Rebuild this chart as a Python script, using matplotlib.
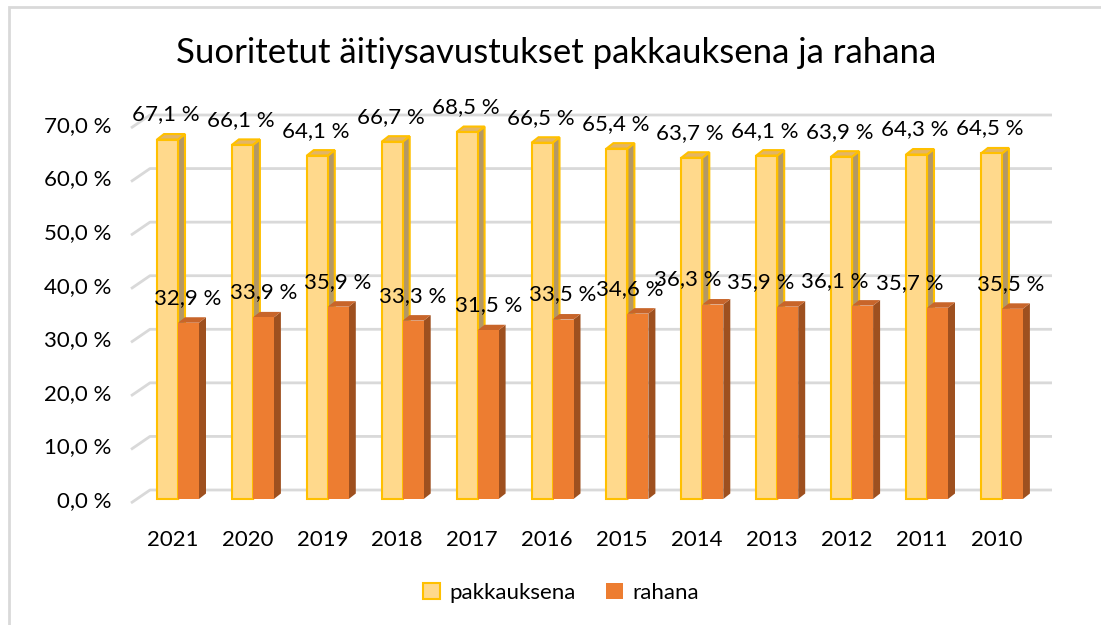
import numpy as np
import matplotlib
matplotlib.use("Agg")
from matplotlib import pyplot as plt
from matplotlib.patches import Polygon, Rectangle, Patch


years = ["2021", "2020", "2019", "2018", "2017", "2016",
         "2015", "2014", "2013", "2012", "2011", "2010"]
pakkauksena = [67.1, 66.1, 64.1, 66.7, 68.5, 66.5, 65.4, 63.7, 64.1, 63.9, 64.3, 64.5]
rahana = [32.9, 33.9, 35.9, 33.3, 31.5, 33.5, 34.6, 36.3, 35.9, 36.1, 35.7, 35.5]

TITLE = "Suoritetut äitiysavustukset pakkauksena ja rahana"

# label nudges (pixels) for the rahana data labels, the way they sit in the original
rahana_label_dx = [10, 11, 10, 10, 11, 10, 2, -15, -17, -17, -17, 9]

PAKK_FACE = "#FFD98C"
PAKK_EDGE = "#FFC000"
PAKK_TOP = "#E3B565"
PAKK_SIDE = "#B39866"
RAH_FACE = "#ED7D31"
RAH_TOP = "#C8652A"
RAH_SIDE = "#9E501F"
GRID = "#D9D9D9"

plt.rcParams['font.family'] = ['Lato', 'DejaVu Sans']

W, H, DPI = 1101, 625, 100
fig = plt.figure(figsize=(W / DPI, H / DPI), dpi=DPI)

# axes laid out in pixels: y=0 at 499 px, y=70 at 124 px; category step 74.9 px
ax_left, ax_right = 120, 1060
ax_bot, ax_top = 499, 124
ax = fig.add_axes([ax_left / W, (H - ax_bot) / H, (ax_right - ax_left) / W, (ax_bot - ax_top) / H])
step = 74.9
first = 178
ax.set_xlim((ax_left - first) / step, (ax_right - first) / step)
ax.set_ylim(0, 70)
px_x = 1.0 / step
px_y = 70.0 / (ax_bot - ax_top)

for s in ax.spines.values():
    s.set_visible(False)

# back wall gridlines with slanted left floor piece
yticks = np.arange(0, 71, 10)
x0 = ax.get_xlim()[0]
x_end = (1052 - first) / step
for v in yticks:
    xs = [x0 + 11 * px_x, x0 + 30 * px_x, x_end]
    ys = [v - 4 * px_y, v + 9 * px_y, v + 9 * px_y]
    ax.plot(xs, ys, color=GRID, lw=2, zorder=0, clip_on=False, solid_capstyle="butt")

bw = 21 * px_x
ddx = 7 * px_x
ddy = 5.5 * px_y


def bar3d(xl, h, face, top, side, edge, lw):
    ax.add_patch(Polygon([(xl + bw, 0), (xl + bw + ddx, ddy), (xl + bw + ddx, h + ddy), (xl + bw, h)],
                         closed=True, facecolor=side, edgecolor=edge, lw=lw, zorder=2, clip_on=False))
    ax.add_patch(Polygon([(xl, h), (xl + bw, h), (xl + bw + ddx, h + ddy), (xl + ddx, h + ddy)],
                         closed=True, facecolor=top, edgecolor=edge, lw=lw, zorder=2, clip_on=False))
    ax.add_patch(Rectangle((xl, 0), bw, h, facecolor=face, edgecolor=edge, lw=lw, zorder=2, clip_on=False))


x = np.arange(len(years))
for i in x:
    bar3d(i - bw, pakkauksena[i], PAKK_FACE, PAKK_TOP, PAKK_SIDE, PAKK_EDGE, 1.5)
    bar3d(i, rahana[i], RAH_FACE, RAH_TOP, RAH_SIDE, "none", 0)

lab_kw = dict(ha="center", va="center", fontsize=16, color="black", textcoords="offset points", zorder=5)
for i in x:
    ax.annotate(f"{pakkauksena[i]:.1f} %".replace(".", ","), (i, pakkauksena[i]),
                xytext=(-12 * 0.72, 25 * 0.72), **lab_kw)
    ax.annotate(f"{rahana[i]:.1f} %".replace(".", ","), (i, rahana[i]),
                xytext=(rahana_label_dx[i] * 0.72, 25 * 0.72), **lab_kw)

ax.set_yticks(yticks)
ax.set_yticklabels([f"{v:.1f} %".replace(".", ",") for v in yticks], fontsize=16)
ax.set_xticks(x - 5.5 * px_x)
ax.set_xticklabels(years, fontsize=16)
ax.tick_params(axis="y", length=0, pad=6)
ax.tick_params(axis="x", length=0, pad=22)

fig.text(556 / W, 1 - 53 / H, TITLE, ha="center", va="center", fontsize=25)

handles = [Patch(facecolor=PAKK_FACE, edgecolor=PAKK_EDGE, lw=1.5, label="pakkauksena"),
           Patch(facecolor=RAH_FACE, edgecolor="none", label="rahana")]
fig.legend(handles=handles, loc="center", bbox_to_anchor=(561 / W, 1 - 593 / H), ncol=2,
           frameon=False, fontsize=16, handlelength=0.75, handleheight=0.75,
           handletextpad=0.4, columnspacing=1.4)

# chart frame
fig.patches.append(Rectangle((9 / W, -0.05), 1.1, 1 - 7 / H + 0.05, transform=fig.transFigure,
                             facecolor="none", edgecolor=GRID, lw=2))

fig.savefig("out.png", dpi=DPI)
